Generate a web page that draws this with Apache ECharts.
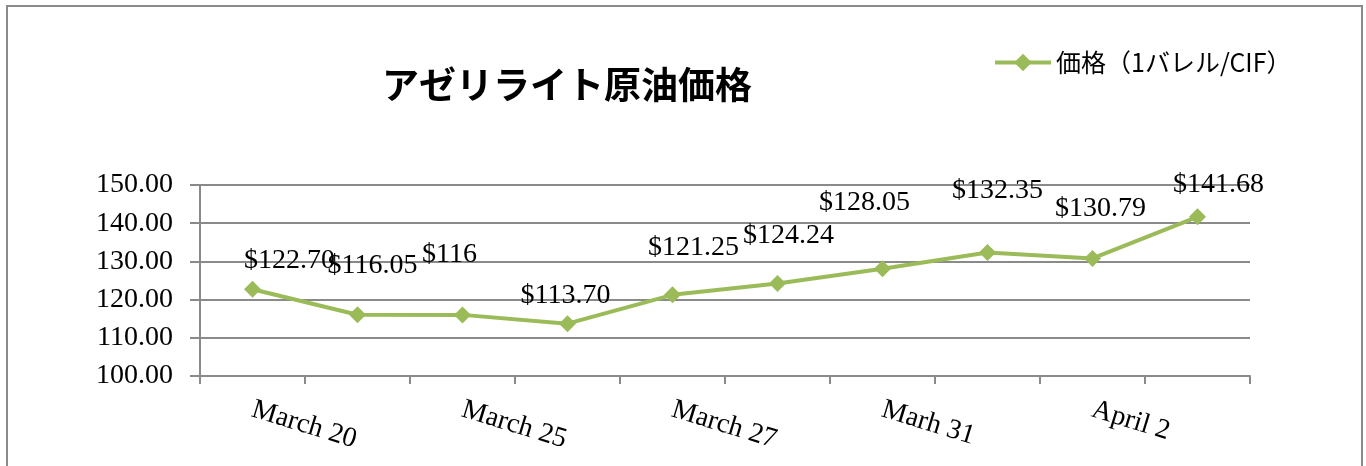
<!DOCTYPE html>
<html>
<head>
<meta charset="utf-8">
<script src="https://cdn.jsdelivr.net/npm/echarts@6/dist/echarts.min.js"></script>
<style>
    html, body { margin: 0; padding: 0; background: #fff; }
    #chart { width: 1366px; height: 466px; }
</style>
</head>
<body>
<div id="chart"></div>
<script>
// 日付（表示されていない項目は空）
var categories = ['March 20', '', 'March 25', '', 'March 27', '', 'Marh 31', '', 'April 2', ''];
// 価格（1バレル/CIF）
var prices = [122.70, 116.05, 116, 113.70, 121.25, 124.24, 128.05, 132.35, 130.79, 141.68];
var priceLabels = ['$122.70', '$116.05', '$116', '$113.70', '$121.25', '$124.24', '$128.05', '$132.35', '$130.79', '$141.68'];
var yTicks = [100, 110, 120, 130, 140, 150];

// ラベルのずらし量（手動配置の再現）
var labelOffsets = [[37, -29], [15, -49], [-13, -60], [-2, -28], [21, -47], [11, -48], [-18, -66], [10, -62], [8, -50], [21, -32]];

var serif = '"Liberation Serif", "DejaVu Serif", serif';
var gothic = '"Noto Sans CJK JP", sans-serif';
var gray = '#8a8a8a';

var chart = echarts.init(document.getElementById('chart'));

var seriesData = prices.map(function (v, i) {
    return {
        value: v,
        label: {
            show: true,
            position: 'inside',
            offset: labelOffsets[i],
            formatter: priceLabels[i]
        }
    };
});

var option = {
    animation: false,
    backgroundColor: '#fff',
    title: {
        text: 'アゼリライト原油価格',
        left: 377,
        top: 61,
        textStyle: {
            fontFamily: gothic,
            fontWeight: 'bold',
            fontSize: 37,
            color: '#000'
        }
    },
    legend: {
        left: 988,
        top: 45,
        itemWidth: 56,
        itemHeight: 22,
        itemGap: 4,
        data: ['価格（1バレル/CIF）'],
        lineStyle: { width: 4 },
        textStyle: {
            fontFamily: gothic,
            fontSize: 25,
            color: '#000'
        }
    },
    graphic: [{
        type: 'rect',
        shape: { x: 7, y: 6, width: 1355, height: 480 },
        style: { fill: 'none', stroke: gray, lineWidth: 2 },
        silent: true
    }],
    grid: {
        left: 200,
        right: 116,
        top: 185,
        bottom: 90
    },
    xAxis: {
        type: 'category',
        data: categories,
        boundaryGap: true,
        axisLine: { lineStyle: { color: gray, width: 2 } },
        axisTick: { show: true, length: 8, interval: 0, lineStyle: { color: gray, width: 2 } },
        axisLabel: {
            interval: 0,
            rotate: -17,
            margin: 33,
            fontFamily: serif,
            fontSize: 28,
            color: '#000'
        }
    },
    yAxis: {
        type: 'value',
        min: yTicks[0],
        max: yTicks[yTicks.length - 1],
        interval: 10,
        axisLine: { show: true, lineStyle: { color: gray, width: 2 } },
        axisTick: { show: true, length: 10, lineStyle: { color: gray, width: 2 } },
        splitLine: { lineStyle: { color: gray, width: 2 } },
        axisLabel: {
            margin: 27,
            fontFamily: serif,
            fontSize: 28,
            color: '#000',
            formatter: function (v) { return v.toFixed(2); }
        }
    },
    series: [{
        name: '価格（1バレル/CIF）',
        type: 'line',
        data: seriesData,
        symbol: 'diamond',
        symbolSize: 17,
        lineStyle: { color: '#9bbb59', width: 4 },
        itemStyle: { color: '#9bbb59' },
        label: {
            fontFamily: serif,
            fontSize: 28,
            color: '#000'
        },
        z: 3
    }]
};

chart.setOption(option);
</script>
</body>
</html>
